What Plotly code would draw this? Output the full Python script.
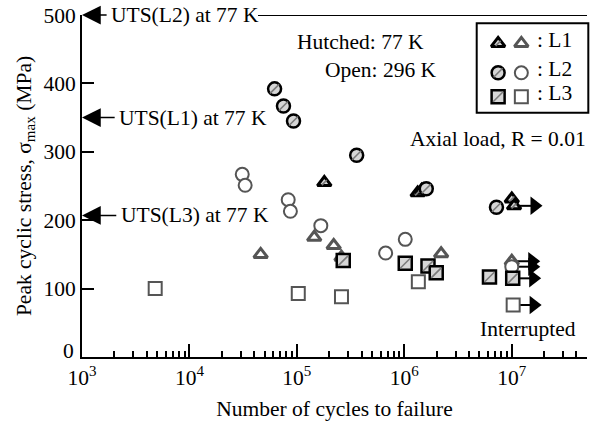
import plotly.graph_objects as go

# ---- fatigue data: cycles to failure (N) and peak cyclic stress (MPa) ----
# L1, 77 K (hatched triangles)
l1_cold_n = [1.8e5, 1.33e6, 1.45e6, 1.0e7, 1.05e7]
l1_cold_s = [255, 240, 244, 231, 221]
l1_cold_run = [False, False, False, False, True]
# L1, 296 K (open triangles)
l1_room_n = [4.6e4, 1.45e5, 2.2e5, 2.6e5, 2.2e6, 1.0e7]
l1_room_s = [150, 175, 163, 146, 151, 140]
l1_room_run = [False, False, False, False, False, True]
# L2, 77 K (hatched circles)
l2_cold_n = [6.2e4, 7.5e4, 9.3e4, 3.6e5, 1.6e6, 7.2e6]
l2_cold_s = [392, 367, 345, 295, 246, 219]
l2_cold_run = [False] * 6
# L2, 296 K (open circles)
l2_room_n = [3.1e4, 3.3e4, 8.3e4, 8.7e4, 1.67e5, 6.7e5, 1.02e6, 1.0e7]
l2_room_s = [267, 251, 230, 213, 192, 152, 172, 132]
l2_room_run = [False] * 7 + [True]
# L3, 77 K (hatched squares)
l3_cold_n = [2.7e5, 1.02e6, 1.66e6, 1.98e6, 6.2e6, 1.02e7]
l3_cold_s = [141, 137, 133, 123, 117, 115]
l3_cold_run = [False] * 5 + [True]
# L3, 296 K (open squares)
l3_room_n = [4.8e3, 1.03e5, 2.6e5, 1.35e6, 1.03e7]
l3_room_s = [100, 93, 88, 110, 76]
l3_room_run = [False] * 4 + [True]

# ultimate tensile strengths at 77 K
uts_labels = ["UTS(L2) at 77 K", "UTS(L1) at 77 K", "UTS(L3) at 77 K"]
uts_values = [500, 350, 207]

x_tick_vals = [1e3, 1e4, 1e5, 1e6, 1e7]
x_tick_text = ["10<sup>3</sup>", "10<sup>4</sup>", "10<sup>5</sup>", "10<sup>6</sup>", "10<sup>7</sup>"]
y_tick_vals = [0, 100, 200, 300, 400, 500]
y_tick_text = ["", "100", "200", "300", "400", "500"]  # "0" is placed separately above the 10^3 label

FONT = "Liberation Serif"
FS = 21.5
HATCH_FILL = "#d6d6d6"
HATCH_LINE = "#7c7c7c"
OPEN_LINE = "#555555"

fig = go.Figure()

series = [
    (l1_cold_n, l1_cold_s, l1_cold_run, "triangle-up", True),
    (l1_room_n, l1_room_s, l1_room_run, "triangle-up", False),
    (l2_cold_n, l2_cold_s, l2_cold_run, "circle", True),
    (l2_room_n, l2_room_s, l2_room_run, "circle", False),
    (l3_cold_n, l3_cold_s, l3_cold_run, "square", True),
    (l3_room_n, l3_room_s, l3_room_run, "square", False),
]

# run-out arrows (interrupted tests)
ARROW_GAIN = 1.55
for n, s, run, sym, hatched in series:
    for ni, si, ri in zip(n, s, run):
        if ri:
            fig.add_trace(go.Scatter(
                x=[ni, ni * ARROW_GAIN], y=[si, si], mode="lines",
                line=dict(color="black", width=2), hoverinfo="skip"))
            fig.add_trace(go.Scatter(
                x=[ni * ARROW_GAIN], y=[si], mode="markers",
                marker=dict(symbol="triangle-right", size=16, color="black",
                            line=dict(width=0)), hoverinfo="skip"))


def marker_style(sym, hatched):
    size = {"triangle-up": 12, "circle": 13, "square": 13}[sym]
    if hatched:
        return dict(symbol=sym, size=size, color=HATCH_FILL,
                    line=dict(color="black", width=3 if sym == "triangle-up" else 2.5))
    return dict(symbol=sym, size=size, color="white",
                line=dict(color=OPEN_LINE, width=3 if sym == "triangle-up" else 2))


def hatch_style(sym):
    size = {"triangle-up": 5, "circle": 9, "square": 10}[sym]
    return dict(symbol="line-ne", size=size, line=dict(color=HATCH_LINE, width=1.6))


def add_points(x, y, sym, hatched, **axes):
    fig.add_trace(go.Scatter(x=x, y=y, mode="markers", marker=marker_style(sym, hatched), **axes))
    if hatched:
        fig.add_trace(go.Scatter(x=x, y=y, mode="markers", marker=hatch_style(sym),
                                 hoverinfo="skip", **axes))


for n, s, run, sym, hatched in series:
    add_points(n, s, sym, hatched)

# key box drawn on an overlay axis spanning the plot area in [0, 1]
key_syms = ["triangle-up", "circle", "square"]
key_names = [": L1", ": L2", ": L3"]
key_y = [0.917, 0.831, 0.761]
key_x_hatched = 0.824
key_x_open = 0.870
for sym, ky in zip(key_syms, key_y):
    add_points([key_x_hatched], [ky], sym, True, xaxis="x2", yaxis="y2")
    add_points([key_x_open], [ky], sym, False, xaxis="x2", yaxis="y2")
for name, ky in zip(key_names, key_y):
    fig.add_annotation(x=0.897, y=ky + 0.01, xref="x2", yref="y2", text=name, showarrow=False,
                       xanchor="left", yanchor="middle", font=dict(family=FONT, size=FS, color="black"))
fig.add_shape(type="rect", xref="paper", yref="paper", x0=0.7816, x1=1.0026, y0=0.714, y1=0.9757,
              line=dict(color="black", width=2), fillcolor="rgba(0,0,0,0)")

# UTS arrows pointing at the stress axis
uts_text_x = [3.255, 3.33, 3.345]
for lab, val, tx in zip(uts_labels, uts_values, uts_text_x):
    fig.add_annotation(x=3.0, y=val, ax=tx - 0.012, ay=val, xref="x", yref="y", axref="x", ayref="y",
                       text="", showarrow=True, arrowhead=2, arrowsize=2.5, arrowwidth=1.5,
                       arrowcolor="black")
    fig.add_annotation(x=tx, y=val, xref="x", yref="y", text=lab, showarrow=False,
                       xanchor="left", yanchor="middle", font=dict(family=FONT, size=FS, color="black"))
# top rule continuing the UTS(L2) line
fig.add_shape(type="line", xref="paper", yref="y", x0=0.3485, x1=1.0, y0=uts_values[0], y1=uts_values[0],
              line=dict(color="black", width=2))

# origin label of the stress axis, lifted clear of the 10^3 label
fig.add_annotation(x=0, y=y_tick_vals[0], xref="paper", yref="y", text="0", showarrow=False,
                   xanchor="right", yanchor="middle", xshift=-6, yshift=6,
                   font=dict(family=FONT, size=FS, color="black"))

txt = dict(family=FONT, size=FS, color="black")
fig.add_annotation(x=0.422, y=0.922, xref="paper", yref="paper", text="Hutched: 77 K", showarrow=False,
                   xanchor="left", yanchor="middle", font=txt)
fig.add_annotation(x=0.478, y=0.839, xref="paper", yref="paper", text="Open: 296 K", showarrow=False,
                   xanchor="left", yanchor="middle", font=txt)
fig.add_annotation(x=1.002, y=0.636, xref="paper", yref="paper", text="Axial load, R = 0.01", showarrow=False,
                   xanchor="right", yanchor="middle", font=txt)
fig.add_annotation(x=0.785, y=0.081, xref="paper", yref="paper", text="Interrupted", showarrow=False,
                   xanchor="left", yanchor="middle", font=txt)

minor_vals = [m * 10 ** e for e in range(3, 8) for m in range(2, 10) if m * 10 ** e < 5e7]

fig.update_layout(
    width=590, height=421,
    margin=dict(l=82, r=3, t=15, b=64),
    paper_bgcolor="white", plot_bgcolor="white",
    showlegend=False,
    font=dict(family=FONT, size=FS, color="black"),
    xaxis=dict(type="log", range=[3, 7.7], showline=True, linecolor="black", linewidth=2,
               ticks="inside", ticklen=13, tickwidth=1.5, tickcolor="black",
               tickvals=x_tick_vals, ticktext=x_tick_text, showgrid=False, zeroline=False,
               minor=dict(tickvals=minor_vals, ticks="inside", ticklen=6, tickwidth=1.5,
                          tickcolor="black", showgrid=False),
               title=dict(text="Number of cycles to failure", standoff=14,
                          font=dict(family=FONT, size=FS))),
    yaxis=dict(range=[0, 500], showline=True, linecolor="black", linewidth=2,
               ticks="inside", ticklen=12, tickwidth=1.5, tickcolor="black",
               tickvals=y_tick_vals, ticktext=y_tick_text, showgrid=False, zeroline=False,
               title=dict(text="Peak cyclic stress, σ<sub>max</sub> (MPa)", standoff=6,
                          font=dict(family=FONT, size=FS))),
    xaxis2=dict(overlaying="x", range=[0, 1], visible=False),
    yaxis2=dict(overlaying="y", range=[0, 1], visible=False),
)

fig.write_html("out.html")
